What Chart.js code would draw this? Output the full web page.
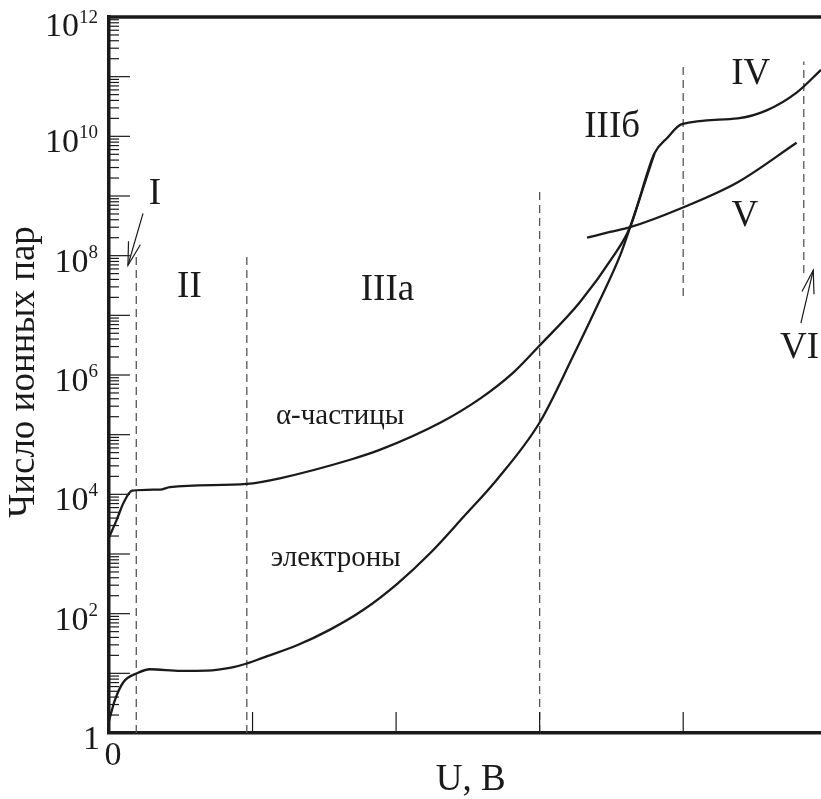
<!DOCTYPE html>
<html><head><meta charset="utf-8">
<script src="https://cdn.jsdelivr.net/npm/chart.js@4.4.1/dist/chart.umd.min.js"></script>
<style>html,body{margin:0;padding:0;background:#fff;}#wrap{width:821px;height:799px;position:relative;}
#probe{position:absolute;left:-9999px;top:0;font-family:"Liberation Serif";font-size:20px;}</style>
</head><body><div id="probe">Число 10 IIIб α</div><div id="wrap"><canvas id="c"></canvas></div>
<script>
// ---- data (U in relative units, N = число ионных пар) ----
const alphaU = [0, 0.053, 0.10, 0.162, 0.355, 0.425, 0.96, 1.19, 1.68, 1.89, 2.31, 2.59, 2.82, 2.99, 3.28, 3.51, 3.63, 3.80, 3.89, 3.99, 4.38, 4.585, 4.79, 4.96];
const alphaN = [1.9e3, 3.7e3, 7.1e3, 1.15e4, 1.2e4, 1.32e4, 1.5e4, 1.86e4, 3.8e4, 5.6e4, 1.6e5, 4.1e5, 1.12e6, 2.95e6, 1.66e7, 9.5e7, 3.0e8, 5.2e9, 9.5e9, 1.6e10, 2.0e10, 2.75e10, 5.4e10, 1.3e11];
const electronU = [0, 0.04, 0.10, 0.195, 0.286, 0.50, 0.68, 0.86, 0.96, 1.07, 1.31, 1.54, 1.77, 2.01, 2.24, 2.47, 2.70, 3.0, 3.23, 3.42, 3.56, 3.63, 3.80];
const electronN = [1.6, 3.5, 7.1, 10, 11.7, 11, 11.1, 12.6, 14.6, 18.2, 29.5, 54, 115, 320, 1.05e3, 4.2e3, 1.74e4, 1.6e5, 2.0e6, 1.8e7, 1.0e8, 3.0e8, 5.2e9];
const regionVU = [3.33, 3.49, 3.63, 3.99, 4.38, 4.79];
const regionVN = [2.0e8, 2.5e8, 3.0e8, 6.3e8, 1.7e9, 7.8e9];
const dividerU = [0.19, 0.96, 3.0, 4.0, 4.84];
const dividerLowN = [1, 1, 1, 2.1e7, 5.1e7];
const dividerHighN = [1e8, 1e8, 1.4e9, 1.45e11, 1.8e11];
const xTickValues = [1, 2, 3, 4];
const xTickLabels = ['0'];
const yTickExponents = [0, 2, 4, 6, 8, 10, 12];
const regionNames = ['I', 'II', 'IIIa', 'IIIб', 'IV', 'V', 'VI'];
const regionNameU = [0.32, 0.56, 1.94, 3.505, 4.47, 4.43, 4.81];
const regionNameN = [1.05e9, 2.9e7, 2.6e7, 1.4e10, 1.1e11, 4.6e8, 2.8e6];
const curveNames = ['α-частицы', 'электроны'];
const curveNameU = [1.61, 1.58];
const curveNameN = [2.0e5, 8.3e2];
const arrowFromU = [0.237, 4.82], arrowFromN = [5.1e8, 7.4e6];
const arrowToU = [0.132, 4.906], arrowToN = [6.9e7, 5.7e7];
const xTitle = 'U, B';
const yTitle = 'Число ионных пар';
const X_MAX = 4.96;

const pts = (xs, ys) => xs.map((x, i) => ({x: x, y: ys[i]}));
const FONT = '"Liberation Serif", "Times New Roman", serif';
const datasets = [];
const curveStyle = {borderColor: '#1a1a1a', borderWidth: 2.3, pointRadius: 0, fill: false, cubicInterpolationMode: 'monotone'};
datasets.push(Object.assign({label: 'alpha', data: pts(alphaU, alphaN)}, curveStyle));
datasets.push(Object.assign({label: 'electrons', data: pts(electronU, electronN)}, curveStyle));
datasets.push(Object.assign({label: 'V', data: pts(regionVU, regionVN)}, curveStyle));
dividerU.forEach((u, i) => {
  datasets.push({label: 'div' + i, data: [{x: u, y: dividerLowN[i]}, {x: u, y: dividerHighN[i]}],
    borderColor: '#555', borderWidth: 1.3, borderDash: [8, 5], pointRadius: 0, tension: 0, fill: false});
});

const decor = {
  id: 'decor',
  afterDraw(chart) {
    const ctx = chart.ctx, ca = chart.chartArea, xs = chart.scales.x, ys = chart.scales.y;
    ctx.save();
    ctx.strokeStyle = '#1a1a1a';
    ctx.lineWidth = 3.5;
    ctx.beginPath(); ctx.moveTo(ca.left - 1.5, ca.top); ctx.lineTo(ca.right, ca.top); ctx.stroke();
    ctx.lineWidth = 1.2;
    for (let e = 0; e < 12; e++) {
      for (let m = 1; m < 10; m++) {
        if (e === 0 && m === 1) continue;
        const py = ys.getPixelForValue(m * Math.pow(10, e));
        const len = m === 1 ? 21 : 10;
        ctx.beginPath(); ctx.moveTo(ca.left, py); ctx.lineTo(ca.left + len, py); ctx.stroke();
      }
    }
    xTickValues.forEach(u => {
      const px = xs.getPixelForValue(u);
      ctx.beginPath(); ctx.moveTo(px, ca.bottom); ctx.lineTo(px, ca.bottom - 21); ctx.stroke();
    });
    ctx.fillStyle = '#1a1a1a';
    ctx.textBaseline = 'alphabetic';
    yTickExponents.forEach(e => {
      const py = ys.getPixelForValue(Math.pow(10, e));
      const right = 98;
      if (e === 0) {
        ctx.font = '34px ' + FONT; ctx.textAlign = 'right';
        ctx.fillText('1', right + 2, py + 16);
        return;
      }
      ctx.font = '19px ' + FONT; ctx.textAlign = 'right';
      const sup = String(e);
      const w = ctx.measureText(sup).width;
      ctx.fillText(sup, right, py + 2 + (e === 12 ? 4 : 0));
      ctx.font = '34px ' + FONT;
      ctx.fillText('10', right - w, py + 16 + (e === 12 ? 3 : 0));
    });
    ctx.font = '34px ' + FONT; ctx.textAlign = 'center';
    ctx.fillText(xTickLabels[0], xs.getPixelForValue(0) + 4, ca.bottom + 32);
    ctx.font = '37px ' + FONT; ctx.textAlign = 'center'; ctx.textBaseline = 'middle';
    ctx.fillText(xTitle, xs.getPixelForValue(2.52), 780);
    ctx.save(); ctx.translate(24, ys.getPixelForValue(Math.pow(10, 6)) - 3); ctx.rotate(-Math.PI / 2);
    ctx.fillText(yTitle, 0, 0); ctx.restore();
    regionNames.forEach((t, i) => {
      ctx.fillText(t, xs.getPixelForValue(regionNameU[i]), ys.getPixelForValue(regionNameN[i]));
    });
    ctx.font = '29px ' + FONT;
    curveNames.forEach((t, i) => {
      ctx.fillText(t, xs.getPixelForValue(curveNameU[i]), ys.getPixelForValue(curveNameN[i]));
    });
    ctx.lineWidth = 1.2;
    arrowFromU.forEach((u, i) => {
      const x1 = xs.getPixelForValue(u), y1 = ys.getPixelForValue(arrowFromN[i]);
      const x2 = xs.getPixelForValue(arrowToU[i]), y2 = ys.getPixelForValue(arrowToN[i]);
      ctx.beginPath(); ctx.moveTo(x1, y1); ctx.lineTo(x2, y2); ctx.stroke();
      const ang = Math.atan2(y1 - y2, x1 - x2), L = 24, h = 0.26;
      ctx.beginPath();
      ctx.moveTo(x2 + L * Math.cos(ang - h), y2 + L * Math.sin(ang - h));
      ctx.lineTo(x2, y2);
      ctx.lineTo(x2 + L * Math.cos(ang + h), y2 + L * Math.sin(ang + h));
      ctx.stroke();
    });
    ctx.restore();
  }
};

function build() {
  new Chart(document.getElementById('c'), {
    type: 'line',
    data: {datasets: datasets},
    options: {
      responsive: true, maintainAspectRatio: false, animation: false,
      layout: {padding: {top: 17, left: 0, right: 0, bottom: 0}},
      plugins: {legend: {display: false}, tooltip: {enabled: false}},
      scales: {
        x: {type: 'linear', min: 0, max: X_MAX, position: 'bottom',
            grid: {display: false}, ticks: {display: false},
            border: {display: true, color: '#1a1a1a', width: 3.5},
            afterFit(s) { s.height = 66; }},
        y: {type: 'logarithmic', min: 1, max: 1e12, position: 'left',
            grid: {display: false}, ticks: {display: false},
            border: {display: true, color: '#1a1a1a', width: 3.5},
            afterFit(s) { s.width = 109; }}
      }
    },
    plugins: [decor]
  });
}
if (document.fonts && document.fonts.load) {
  Promise.all([document.fonts.load('34px "Liberation Serif"', 'Число 10 IIIб α')]).then(build, build);
} else { build(); }
</script></body></html>
